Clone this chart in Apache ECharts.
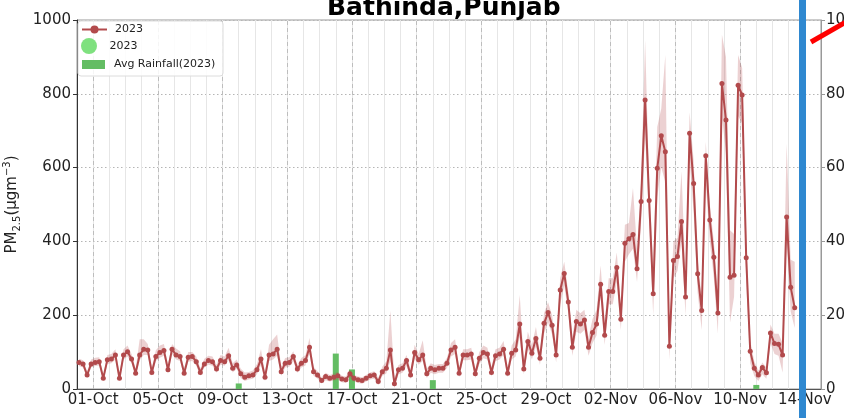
<!DOCTYPE html>
<html><head><meta charset="utf-8">
<script src="https://cdn.jsdelivr.net/npm/echarts@6/dist/echarts.min.js"></script>
<style>html,body{margin:0;padding:0;background:#fff}#c{width:844px;height:418px}</style>
</head><body><div id="c"></div>
<script>
// x axis: days counted from 01-Oct 00:00
const tickLabels = ['01-Oct','05-Oct','09-Oct','13-Oct','17-Oct','21-Oct','25-Oct','29-Oct','02-Nov','06-Nov','10-Nov','14-Nov'];
const tickDays = [0,4,8,12,16,20,24,28,32,36,40,44];
const startDay = -0.875;   // 30-Sep 03:00
const stepDay = 0.25;      // 6-hourly readings

const pm25 = [72,68,38,68,72,74,29,79,81,92,29,92,101,81,43,92,108,106,45,88,99,104,52,108,92,88,43,86,88,74,45,68,77,74,54,77,74,90,56,65,41,32,36,38,52,81,32,92,95,108,47,70,72,88,54,70,77,113,47,38,23,34,29,32,36,27,25,41,29,25,23,
29,36,38,20,47,56,106,14,52,56,77,38,99,79,92,41,56,52,56,56,70,106,113,43,92,92,95,41,83,99,95,45,90,95,108,43,97,106,176,54,129,97,137,83,178,207,173,92,268,313,236,113,183,176,187,113,153,176,284,146,264,264,329,189,
395,407,419,326,508,783,511,258,598,686,643,116,348,359,454,249,693,557,312,213,632,458,357,206,828,729,303,308,823,797,356,102,56,38,58,44,152,123,121,92,466,276,220];

const pmUpper = [82,78,48,80,85,86,38,92,95,108,40,108,118,95,55,135,135,122,58,105,118,122,65,122,110,102,55,100,100,88,56,82,90,88,66,92,88,112,70,80,55,45,46,50,68,108,45,120,135,148,60,84,86,102,66,84,92,138,60,48,32,44,38,42,46,36,34,52,38,34,32,
38,45,48,30,60,75,212,30,65,70,92,52,120,95,132,55,70,65,68,68,85,125,135,58,108,108,112,55,100,118,112,60,108,112,130,58,118,135,255,72,155,120,168,100,205,235,200,118,300,345,262,140,215,205,215,140,190,215,335,180,300,300,370,225,
445,450,545,380,560,945,560,330,710,760,905,150,400,410,590,300,750,620,350,250,670,500,400,260,960,900,430,420,905,870,420,130,75,50,72,58,175,150,150,125,665,350,345];

const pmLower = [62,58,30,58,62,64,22,68,70,80,22,80,88,70,35,78,92,92,36,76,85,90,42,95,80,76,34,74,76,63,36,58,66,63,44,66,63,78,45,55,30,22,26,28,40,65,22,76,80,90,36,58,60,75,44,58,64,95,36,28,15,24,20,23,26,18,16,30,20,16,14,
20,26,28,10,35,42,75,2,40,44,62,27,82,66,76,30,44,40,44,44,57,88,95,32,78,78,80,30,68,83,80,34,75,80,92,32,80,88,140,40,108,80,115,66,150,180,148,72,230,280,205,90,155,150,160,90,125,145,250,120,230,230,290,160,
345,365,380,290,450,690,450,200,520,600,560,80,300,320,400,200,620,480,260,160,560,400,300,150,740,640,180,250,740,720,290,70,35,22,40,28,125,95,90,45,400,210,165];

const rainDays = [9, 15, 16, 21, 41];     // 10-Oct, 16-Oct, 17-Oct, 22-Oct, 11-Nov
const rainfall = [1.5, 9.6, 5.3, 2.4, 1.1];

const leftTicks = [0, 200, 400, 600, 800, 1000];
const rightTicks = [0, 20, 40, 60, 80, 100];

const FONT = 'DejaVu Sans';
const lineColor = '#b24a4c';

const xDays = pm25.map((_, i) => startDay + i * stepDay);
const lineData = pm25.map((v, i) => [xDays[i], v]);
const barData = rainfall.map((v, i) => [rainDays[i], v]);

const chart = echarts.init(document.getElementById('c'), null, {renderer: 'canvas'});
chart.setOption({
  animation: false,
  backgroundColor: '#fff',
  title: {
    text: 'Bathinda,Punjab', left: 327, top: -4, padding: 0,
    textStyle: {fontFamily: FONT, fontWeight: 'bold', fontSize: 25, color: '#000'}
  },
  grid: {left: 77, right: 23, top: 20, bottom: 29, show: true, borderColor: '#999', borderWidth: 1,
         backgroundColor: 'transparent', containLabel: false, outerBoundsMode: 'none'},
  legend: [
    {data: ['2023'], left: 81, top: 24, padding: 0, itemWidth: 25, itemHeight: 10,
     textStyle: {fontFamily: FONT, fontSize: 11, color: '#222', padding: [0,0,0,3]}, selectedMode: false},
    {data: ['2023 '], left: 81, top: 38, padding: 0, itemWidth: 25, itemHeight: 16, icon: 'circle',
     formatter: n => n.trim(),
     textStyle: {fontFamily: FONT, fontSize: 11, color: '#222', padding: [0,0,0,3]}, selectedMode: false},
    {data: ['Avg Rainfall(2023)'], left: 82, top: 59, padding: 0, itemWidth: 23, itemHeight: 9, icon: 'rect',
     textStyle: {fontFamily: FONT, fontSize: 11, color: '#222', padding: [0,0,0,4]}, selectedMode: false}
  ],
  xAxis: {
    type: 'value', min: -1, max: 45, interval: 1,
    axisLine: {show: true, onZero: false, lineStyle: {color: '#555', width: 1}},
    axisTick: {show: false},
    axisLabel: {
      fontFamily: FONT, fontSize: 15, color: '#222', margin: 4, showMinLabel: true, showMaxLabel: true,
      formatter: v => { const k = tickDays.indexOf(v); return k >= 0 ? tickLabels[k] : ''; }
    },
    splitLine: {show: true, lineStyle: {color: '#e6e6e6', width: 1}}
  },
  yAxis: [
    {type: 'value', min: leftTicks[0], max: leftTicks[leftTicks.length-1], interval: 200, position: 'left',
     name: '{a|PM}{s|2.5}{a|(μgm}{p|−3}{a|)}', nameLocation: 'middle', nameGap: 50, nameRotate: 90,
     nameTextStyle: {rich: {
       a: {fontFamily: FONT, fontSize: 15, color: '#222', lineHeight: 20, verticalAlign: 'middle'},
       s: {fontFamily: FONT, fontSize: 10, color: '#222', lineHeight: 10, verticalAlign: 'bottom'},
       p: {fontFamily: FONT, fontSize: 10, color: '#222', lineHeight: 10, verticalAlign: 'top'}
     }},
     axisLine: {show: true, onZero: false, lineStyle: {color: '#333'}},
     axisTick: {show: true, length: 4, lineStyle: {color: '#333'}},
     axisLabel: {fontFamily: FONT, fontSize: 15, color: '#222', margin: 6, formatter: v => String(v)},
     splitLine: {show: true, lineStyle: {color: '#b5b5b5', type: [1.5, 2.5], width: 1}}
    },
    {type: 'value', min: rightTicks[0], max: rightTicks[rightTicks.length-1], interval: 20, position: 'right',
     axisLine: {show: true, onZero: false, lineStyle: {color: '#999'}},
     axisTick: {show: true, length: 4, lineStyle: {color: '#999'}},
     axisLabel: {fontFamily: FONT, fontSize: 15, color: '#222', margin: 5, formatter: v => String(v)},
     splitLine: {show: false}
    }
  ],
  series: [
    {
      name: 'band', type: 'custom', z: 3, silent: true,
      data: [[0, 0]],
      renderItem: function (params, api) {
        const pts = [];
        for (let i = 0; i < pmUpper.length; i++) pts.push(api.coord([xDays[i], pmUpper[i]]));
        for (let i = pmLower.length - 1; i >= 0; i--) pts.push(api.coord([xDays[i], pmLower[i]]));
        return {type: 'polygon', shape: {points: pts}, style: {fill: 'rgba(180,72,76,0.25)'}};
      }
    },
    {
      name: '2023', type: 'line', z: 6, data: lineData,
      symbol: 'circle', symbolSize: 5, showSymbol: true, showAllSymbol: true,
      itemStyle: {color: lineColor},
      lineStyle: {color: lineColor, width: 2}
    },
    {
      name: '2023 ', type: 'scatter', data: [], itemStyle: {color: '#5fd95f'}
    },
    {
      name: 'Avg Rainfall(2023)', type: 'bar', yAxisIndex: 1, z: 2, barWidth: 6,
      data: barData, itemStyle: {color: '#63bd63'},
      markLine: {
        silent: true, symbol: ['none', 'none'], z: 1, label: {show: false},
        lineStyle: {color: '#bdbdbd', type: [4, 3], width: 1},
        emphasis: {disabled: true},
        data: tickDays.map(d => ({xAxis: d}))
      }
    }
  ],
  graphic: [
    {type: 'rect', z: 3, shape: {x: 78, y: 21, width: 145, height: 55, r: 3},
     style: {fill: 'rgba(255,255,255,0.85)', stroke: '#dcdcdc', lineWidth: 1}},
    {type: 'rect', z: 100, shape: {x: 799, y: 0, width: 7, height: 418},
     style: {fill: '#2f88d0'}},
    {type: 'line', z: 100, shape: {x1: 811, y1: 42, x2: 846, y2: 22},
     style: {stroke: '#ff0000', lineWidth: 5}}
  ]
});
</script></body></html>
